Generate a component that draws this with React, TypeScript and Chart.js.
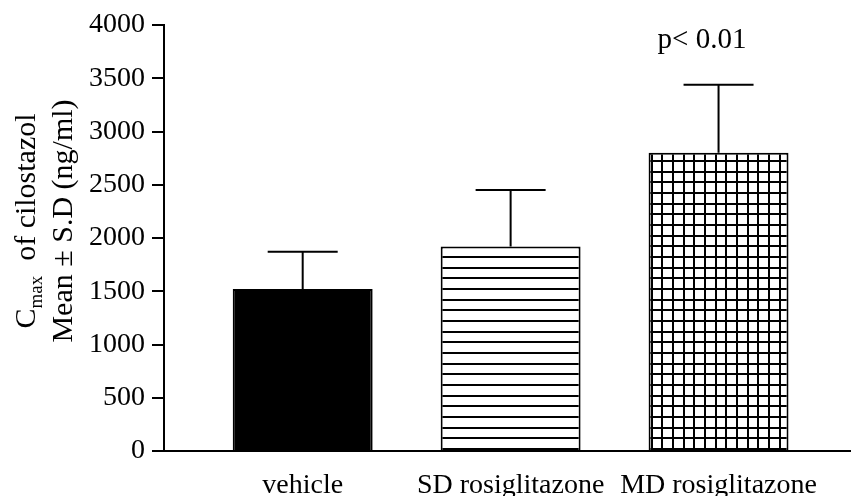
import { useEffect, useRef } from 'react';
import { Chart, registerables } from 'chart.js';

Chart.register(...registerables);

// Group names, mean Cmax and standard deviation (ng/ml)
const categories = ['vehicle', 'SD rosiglitazone', 'MD rosiglitazone'];
const meanValues = [1520, 1920, 2800];
const sdValues = [350, 530, 640];

// Value axis
const yMin = 0;
const yMax = 4000;
const yStep = 500;

// Text
const significanceLabel = 'p< 0.01';
const titleMain = 'C';
const titleSub = 'max';
const titleRest = '  of cilostazol';
const titleSecond = 'Mean ± S.D (ng/ml)';

const SERIF = "'Liberation Serif', 'Times New Roman', Times, serif";

function makeHatch(grid: boolean): CanvasPattern {
  const tile = document.createElement('canvas');
  tile.width = 32;
  tile.height = 32;
  const g = tile.getContext('2d')!;
  g.fillStyle = '#ffffff';
  g.fillRect(0, 0, 32, 32);
  g.fillStyle = '#000000';
  for (const p of [0, 11, 21]) {
    g.fillRect(0, p, 32, 2);
    if (grid) g.fillRect(p, 0, 2, 32);
  }
  return g.createPattern(tile, 'repeat')!;
}

// Upper half of the mean ± SD error bars
const errorBarPlugin = {
  id: 'errorBars',
  afterDatasetsDraw(chart: any) {
    const { ctx } = chart;
    const yScale = chart.scales.y;
    const meta = chart.getDatasetMeta(0);
    ctx.save();
    ctx.strokeStyle = '#000';
    ctx.lineWidth = 2;
    meta.data.forEach((bar: any, i: number) => {
      const top = yScale.getPixelForValue(meanValues[i] + sdValues[i]);
      const half = 35;
      ctx.beginPath();
      ctx.moveTo(bar.x, bar.y);
      ctx.lineTo(bar.x, top);
      ctx.moveTo(bar.x - half, top);
      ctx.lineTo(bar.x + half, top);
      ctx.stroke();
    });
    ctx.restore();
  },
};

// Significance note above the last group
const significancePlugin = {
  id: 'significance',
  afterDraw(chart: any) {
    const { ctx } = chart;
    const yScale = chart.scales.y;
    const meta = chart.getDatasetMeta(0);
    const last = categories.length - 1;
    const bar = meta.data[last];
    const top = yScale.getPixelForValue(meanValues[last] + sdValues[last]);
    ctx.save();
    ctx.fillStyle = '#000';
    ctx.font = `29px ${SERIF}`;
    ctx.textAlign = 'left';
    ctx.textBaseline = 'alphabetic';
    ctx.fillText(significanceLabel, bar.x - 61, top - 37);
    ctx.restore();
  },
};

// Rotated two-line axis title with a subscript
const yTitlePlugin = {
  id: 'yTitle',
  afterDraw(chart: any) {
    const { ctx } = chart;
    const centerY = 221;
    const mainFont = `30px ${SERIF}`;
    const subFont = `19px ${SERIF}`;
    ctx.save();
    ctx.fillStyle = '#000';
    ctx.textBaseline = 'alphabetic';
    ctx.textAlign = 'left';

    // first line
    ctx.font = mainFont;
    const wMain = ctx.measureText(titleMain).width;
    const wRest = ctx.measureText(titleRest).width;
    ctx.font = subFont;
    const wSub = ctx.measureText(titleSub).width;
    const total1 = wMain + wSub + wRest;
    ctx.save();
    ctx.translate(35, centerY);
    ctx.rotate(-Math.PI / 2);
    let u = -total1 / 2;
    ctx.font = mainFont;
    ctx.fillText(titleMain, u, 0);
    u += wMain;
    ctx.font = subFont;
    ctx.fillText(titleSub, u, 7);
    u += wSub;
    ctx.font = mainFont;
    ctx.fillText(titleRest, u, 0);
    ctx.restore();

    // second line
    ctx.save();
    ctx.translate(72, centerY);
    ctx.rotate(-Math.PI / 2);
    ctx.font = mainFont;
    ctx.textAlign = 'center';
    ctx.fillText(titleSecond, 0, 0);
    ctx.restore();

    ctx.restore();
  },
};

export default function App() {
  const canvasRef = useRef<HTMLCanvasElement | null>(null);

  useEffect(() => {
    const canvas = canvasRef.current;
    if (!canvas) return;

    const fills = ['#000000', makeHatch(false), makeHatch(true)];

    const chart = new Chart(canvas, {
      type: 'bar',
      data: {
        datasets: [
          {
            data: meanValues.map((y, i) => ({ x: i, y })),
            backgroundColor: fills as any,
            borderColor: '#000',
            borderWidth: 2,
            barPercentage: 0.673,
            categoryPercentage: 1,
          },
        ],
      },
      options: {
        responsive: false,
        animation: false,
        events: [],
        layout: { padding: { top: 25, left: 0, right: 0, bottom: 0 } },
        plugins: {
          legend: { display: false },
          tooltip: { enabled: false },
          title: { display: false },
        },
        scales: {
          x: {
            type: 'linear',
            offset: false,
            min: -0.667,
            max: 2.637,
            grid: { display: false, offset: false },
            border: { display: true, color: '#000', width: 2 },
            afterBuildTicks: (scale: any) => {
              scale.ticks = categories.map((_, i) => ({ value: i }));
            },
            afterFit: (scale: any) => {
              scale.height = 45;
            },
            ticks: {
              autoSkip: false,
              maxRotation: 0,
              color: '#000',
              padding: 10,
              font: { family: SERIF, size: 28 },
              callback: (v: any) => categories[Math.round(Number(v))] ?? '',
            },
          },
          y: {
            min: yMin,
            max: yMax,
            grid: {
              display: true,
              drawOnChartArea: false,
              drawTicks: true,
              tickLength: 12,
              color: '#000',
              lineWidth: 2,
            },
            border: { display: true, color: '#000', width: 2 },
            afterFit: (scale: any) => {
              scale.width = 164;
            },
            ticks: {
              stepSize: yStep,
              color: '#000',
              padding: 7,
              font: { family: SERIF, size: 28 },
              callback: (v: any) => String(v),
            },
          },
        },
      },
      plugins: [errorBarPlugin, significancePlugin, yTitlePlugin],
    });

    return () => chart.destroy();
  }, []);

  return (
    <div
      style={{
        position: 'fixed',
        left: 0,
        top: 0,
        width: 851,
        height: 496,
        background: '#ffffff',
      }}
    >
      <canvas ref={canvasRef} width={851} height={496} />
    </div>
  );
}
